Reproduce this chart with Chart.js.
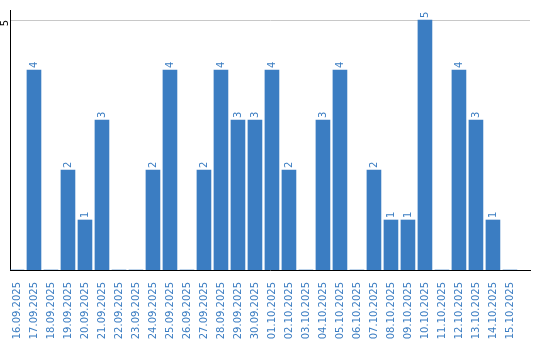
<!DOCTYPE html>
<html><head><meta charset="utf-8">
<script src="https://cdn.jsdelivr.net/npm/chart.js@4/dist/chart.umd.min.js"></script>
<style>html,body{margin:0;padding:0;background:#fff}#wrap{width:540px;height:340px}</style>
</head><body><div id="wrap"><canvas id="c" width="540" height="340"></canvas></div>
<script>
const dates = ["16.09.2025","17.09.2025","18.09.2025","19.09.2025","20.09.2025","21.09.2025","22.09.2025","23.09.2025","24.09.2025","25.09.2025","26.09.2025","27.09.2025","28.09.2025","29.09.2025","30.09.2025","01.10.2025","02.10.2025","03.10.2025","04.10.2025","05.10.2025","06.10.2025","07.10.2025","08.10.2025","09.10.2025","10.10.2025","11.10.2025","12.10.2025","13.10.2025","14.10.2025","15.10.2025"];
const counts = [0,4,0,2,1,3,0,0,2,4,0,2,4,3,3,4,2,0,3,4,0,2,1,1,5,0,4,3,1,0];
const yTicks = [5];

const BLUE = '#3b7dc2';
const labelPlugin = {
  id: 'labels',
  afterDatasetsDraw(chart) {
    const ctx = chart.ctx;
    const meta = chart.getDatasetMeta(0);
    ctx.save();
    ctx.font = '10px "DejaVu Sans"';
    ctx.fillStyle = BLUE;
    ctx.textAlign = 'left';
    ctx.textBaseline = 'middle';
    meta.data.forEach((bar, i) => {
      const v = counts[i];
      if (!v) return;
      ctx.save();
      ctx.translate(bar.x, bar.y - 2);
      ctx.rotate(-Math.PI / 2);
      ctx.fillText(String(v), 0, 0);
      ctx.restore();
    });
    const ys = chart.scales.y;
    ctx.fillStyle = '#000';
    ctx.textAlign = 'right';
    yTicks.forEach(t => {
      ctx.save();
      ctx.translate(ys.right - 5, ys.getPixelForValue(t));
      ctx.rotate(-Math.PI / 2);
      ctx.fillText(String(t), 0, 0);
      ctx.restore();
    });
    ctx.restore();
  }
};

new Chart(document.getElementById('c'), {
  type: 'bar',
  data: {
    datasets: [{
      data: counts.map((v, i) => ({x: i, y: v})),
      backgroundColor: BLUE,
      barThickness: 14
    }]
  },
  options: {
    responsive: false,
    animation: false,
    plugins: { legend: {display: false}, tooltip: {enabled: false} },
    layout: { padding: {left: 10, top: 10, right: 10, bottom: 0} },
    scales: {
      x: {
        type: 'linear',
        offset: false,
        min: -0.41, max: 30.18,
        afterBuildTicks: (s) => { s.ticks = dates.map((_, i) => ({value: i})); },
        afterFit: (s) => { s.height = 70; },
        ticks: {
          autoSkip: false, minRotation: 90, maxRotation: 90,
          color: BLUE, font: {family: 'DejaVu Sans', size: 10}, padding: 4,
          callback: (v) => dates[v] ?? ''
        },
        grid: {display: false},
        border: {display: true, color: '#000', width: 1}
      },
      y: {
        min: 0, max: 5.2,
        afterBuildTicks: (s) => { s.ticks = yTicks.map(v => ({value: v})); },
        afterFit: (s) => { s.width = 0; },
        ticks: {display: false},
        grid: {color: '#c8c8c8', drawTicks: false},
        border: {display: true, color: '#000', width: 1}
      }
    }
  },
  plugins: [labelPlugin]
});
</script></body></html>
